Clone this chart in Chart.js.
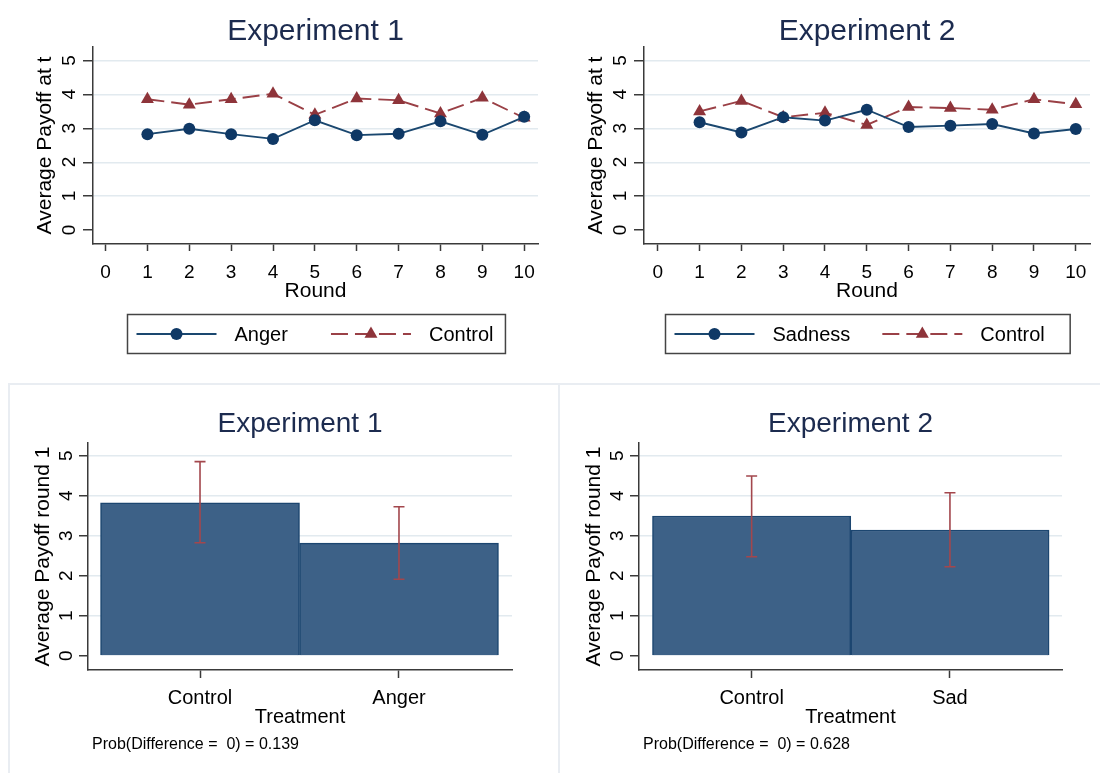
<!DOCTYPE html>
<html>
<head>
<meta charset="utf-8">
<script src="https://cdn.jsdelivr.net/npm/chart.js@4.4.1/dist/chart.umd.min.js"></script>
<style>
    body { margin: 0; background: #fff; width: 1100px; height: 773px; position: relative; overflow: hidden; }
    .panel { position: absolute; }
    .rule { position: absolute; background: #e9edf2; }
</style>
</head>
<body>
<div class="rule" style="left:8px; top:383px; width:1092px; height:2px"></div>
<div class="rule" style="left:8px; top:383px; width:2px; height:390px"></div>
<div class="rule" style="left:558px; top:383px; width:2px; height:390px"></div>

<div class="panel" style="left:0; top:0; width:550px; height:370px"><canvas id="lineExp1"></canvas></div>
<div class="panel" style="left:550px; top:0; width:550px; height:370px"><canvas id="lineExp2"></canvas></div>
<div class="panel" style="left:0; top:370px; width:550px; height:403px"><canvas id="barExp1"></canvas></div>
<div class="panel" style="left:550px; top:370px; width:550px; height:403px"><canvas id="barExp2"></canvas></div>

<script>
// ─── data ───
const rounds = [1, 2, 3, 4, 5, 6, 7, 8, 9, 10];
const roundTicks = [0, 1, 2, 3, 4, 5, 6, 7, 8, 9, 10];
const payoffTicks = [0, 1, 2, 3, 4, 5];

const exp1Anger   = [2.83, 2.99, 2.83, 2.69, 3.24, 2.80, 2.84, 3.21, 2.81, 3.34];
const exp1Control = [3.86, 3.70, 3.86, 4.02, 3.40, 3.88, 3.83, 3.44, 3.90, 3.31];
const exp2Sadness = [3.18, 2.88, 3.33, 3.23, 3.55, 3.04, 3.08, 3.13, 2.85, 2.98];
const exp2Control = [3.50, 3.81, 3.33, 3.46, 3.10, 3.63, 3.60, 3.55, 3.86, 3.71];

const treatmentPos = [1, 2];
const exp1Treatments = ['Control', 'Anger'];
const exp1Round1     = [3.83, 2.82];
const exp1Round1Low  = [2.83, 1.92];
const exp1Round1High = [4.86, 3.73];

const exp2Treatments = ['Control', 'Sad'];
const exp2Round1     = [3.50, 3.15];
const exp2Round1Low  = [2.48, 2.23];
const exp2Round1High = [4.50, 4.08];

const exp1Note = 'Prob(Difference =  0) = 0.139';
const exp2Note = 'Prob(Difference =  0) = 0.628';

// ─── style ───
const FONT = "'Liberation Sans', Arial, sans-serif";
const NAVY = '#1a476f', NAVY_DOT = '#0f3865';
const MAROON = '#9a4046', MAROON_MARK = '#8e343a';
const AXIS = '#3a3a3a', GRID = '#e2eaef', TITLE = '#1c2b4f';
const BAR = '#3d6187', BAR_EDGE = '#1c4670', ERR = '#a3474d';

Chart.defaults.font.family = FONT;
Chart.defaults.color = '#000';
Chart.defaults.animation = false;

// ─── scales ───
function payoffScale(o) {
    return {
        type: 'linear', min: o.min, max: o.max,
        afterBuildTicks: s => { s.ticks = payoffTicks.map(v => ({ value: v })); },
        afterFit: s => { s.width = o.axisX; },
        border: { color: AXIS, width: 1.5 },
        grid: {
            color: c => (c.tick && c.tick.value === 0) ? 'rgba(0,0,0,0)' : GRID,
            lineWidth: 1.5, tickColor: AXIS, tickLength: o.tickLen, tickWidth: 1.5
        },
        ticks: {
            font: { size: 19 }, color: '#000', minRotation: 90, maxRotation: 90,
            padding: o.axisX - o.tickLen - o.labelX, labelOffset: -5.5
        },
        title: {
            display: true, text: o.title, font: { size: 21 }, color: '#000',
            padding: { top: o.titleX - 12.6, bottom: 0 }
        }
    };
}

function roundScale(min, max) {
    return {
        type: 'linear', min, max,
        afterBuildTicks: s => { s.ticks = roundTicks.map(v => ({ value: v })); },
        afterFit: s => { s.height = 60; },
        border: { color: AXIS, width: 1.5 },
        grid: { drawOnChartArea: false, tickColor: AXIS, tickLength: 7, tickWidth: 1.5 },
        ticks: { font: { size: 19 }, color: '#000', padding: 10, maxRotation: 0, autoSkip: false },
        title: { display: true, text: 'Round', font: { size: 21 }, color: '#000', padding: { top: 0, bottom: 0 } }
    };
}

function treatmentScale(min, max, names) {
    return {
        type: 'linear', min, max, offset: false,
        afterBuildTicks: s => { s.ticks = treatmentPos.map(v => ({ value: v })); },
        afterFit: s => { s.height = 60; },
        border: { color: AXIS, width: 1.5 },
        grid: { offset: false, drawOnChartArea: false, tickColor: AXIS, tickLength: 8, tickWidth: 1.5 },
        ticks: {
            font: { size: 20 }, color: '#000', padding: 8.5, maxRotation: 0, autoSkip: false,
            callback: v => names[treatmentPos.indexOf(v)]
        },
        title: { display: true, text: 'Treatment', font: { size: 20 }, color: '#000', padding: { top: 0, bottom: 1 } }
    };
}

// ─── plugins ───
const legendBox = {
    id: 'legendBox',
    afterDraw(chart) {
        const { ctx, chartArea, data } = chart;
        const items = data.datasets;
        ctx.save();
        ctx.font = `20px ${FONT}`;
        const textW = Math.max(...items.map(d => ctx.measureText(d.label).width));
        const sample = 80, gap = 18, colGap = 32, padL = 9, padR = 12, h = 39;
        const colW = sample + gap + textW;
        const boxW = padL + colW * items.length + colGap * (items.length - 1) + padR;
        const x0 = Math.round((chartArea.left + chartArea.right) / 2 - boxW / 2) + 0.5;
        const y0 = chartArea.bottom + 70.5;
        ctx.strokeStyle = '#444'; ctx.lineWidth = 1.5;
        ctx.strokeRect(x0, y0, boxW, h);
        const cy = y0 + h / 2;
        items.forEach((d, i) => {
            const sx = x0 + padL + i * (colW + colGap);
            ctx.strokeStyle = d.borderColor; ctx.lineWidth = d.borderWidth;
            ctx.setLineDash(d.borderDash || []);
            ctx.beginPath(); ctx.moveTo(sx, cy); ctx.lineTo(sx + sample, cy); ctx.stroke();
            ctx.setLineDash([]);
            ctx.fillStyle = d.pointBackgroundColor;
            Chart.helpers.drawPoint(ctx, { pointStyle: d.pointStyle, radius: d.pointRadius, borderWidth: 0, rotation: 0 }, sx + sample / 2, cy);
            ctx.fillStyle = '#000'; ctx.textBaseline = 'middle'; ctx.textAlign = 'left';
            ctx.fillText(d.label, sx + sample + gap, cy + 1);
        });
        ctx.restore();
    }
};

const errorBars = {
    id: 'errorBars',
    afterDatasetsDraw(chart, args, opts) {
        const { ctx, scales: { x, y } } = chart;
        ctx.save();
        ctx.strokeStyle = ERR; ctx.lineWidth = 1.6;
        opts.pos.forEach((p, i) => {
            const px = x.getPixelForValue(p);
            const lo = y.getPixelForValue(opts.low[i]), hi = y.getPixelForValue(opts.high[i]);
            ctx.beginPath();
            ctx.moveTo(px, lo); ctx.lineTo(px, hi);
            ctx.moveTo(px - 5.5, lo); ctx.lineTo(px + 5.5, lo);
            ctx.moveTo(px - 5.5, hi); ctx.lineTo(px + 5.5, hi);
            ctx.stroke();
        });
        ctx.restore();
    }
};

const noteText = {
    id: 'noteText',
    afterDraw(chart, args, opts) {
        const { ctx, chartArea } = chart;
        ctx.save();
        ctx.font = `16px ${FONT}`; ctx.fillStyle = '#000';
        ctx.textBaseline = 'middle'; ctx.textAlign = 'left';
        ctx.fillText(opts.text, chartArea.left + 4, chartArea.bottom + 75);
        ctx.restore();
    }
};

// ─── charts ───
function lineChart(id, title, name, series, control, xr, ax) {
    new Chart(document.getElementById(id), {
        type: 'line',
        data: {
            datasets: [{
                label: name,
                data: rounds.map((r, i) => ({ x: r, y: series[i] })),
                borderColor: NAVY, borderWidth: 1.9,
                pointStyle: 'circle', pointRadius: 6, pointBorderWidth: 0,
                pointBackgroundColor: NAVY_DOT, tension: 0
            }, {
                label: 'Control',
                data: rounds.map((r, i) => ({ x: r, y: control[i] })),
                borderColor: MAROON, borderWidth: 1.9, borderDash: [17, 7],
                pointStyle: 'triangle', pointRadius: 7.5, pointBorderWidth: 0,
                pointBackgroundColor: MAROON_MARK, tension: 0
            }]
        },
        options: {
            responsive: true, maintainAspectRatio: false,
            layout: { padding: { top: 0, left: 0, right: ax.right, bottom: 66 } },
            scales: {
                x: roundScale(xr[0], xr[1]),
                y: payoffScale({ min: -0.41, max: 5.4, axisX: ax.axisX, tickLen: 10, labelX: ax.axisX - 23, titleX: ax.axisX - 48, title: 'Average Payoff at t' })
            },
            plugins: {
                legend: { display: false },
                tooltip: { enabled: false },
                title: {
                    display: true, text: title, fullSize: false, color: TITLE,
                    font: { size: 30, weight: 'normal', lineHeight: 1 }, padding: { top: 17, bottom: 0 }
                }
            }
        },
        plugins: [legendBox]
    });
}

function barChart(id, title, names, values, low, high, note, xr, ax) {
    new Chart(document.getElementById(id), {
        type: 'bar',
        data: {
            datasets: [{
                data: treatmentPos.map((p, i) => ({ x: p, y: values[i] })),
                backgroundColor: BAR, borderColor: BAR_EDGE, borderWidth: 1.5,
                barPercentage: 1, categoryPercentage: 1
            }]
        },
        options: {
            responsive: true, maintainAspectRatio: false,
            layout: { padding: { top: 0, left: 0, right: ax.right, bottom: 43 } },
            scales: {
                x: treatmentScale(xr[0], xr[1], names),
                y: payoffScale({ min: -0.35, max: 5.325, axisX: ax.axisX, tickLen: 9, labelX: ax.axisX - 21, titleX: ax.axisX - 44.5, title: 'Average Payoff round 1' })
            },
            plugins: {
                legend: { display: false },
                tooltip: { enabled: false },
                title: {
                    display: true, text: title, fullSize: false, color: TITLE,
                    font: { size: 28, weight: 'normal', lineHeight: 1 }, padding: { top: 40, bottom: 5 }
                },
                errorBars: { pos: treatmentPos, low, high },
                noteText: { text: note }
            }
        },
        plugins: [errorBars, noteText]
    });
}

lineChart('lineExp1', 'Experiment 1', 'Anger', exp1Anger, exp1Control, [-0.3, 10.33], { axisX: 93, right: 12 });
lineChart('lineExp2', 'Experiment 2', 'Sadness', exp2Sadness, exp2Control, [-0.33, 10.34], { axisX: 94, right: 10 });
barChart('barExp1', 'Experiment 1', exp1Treatments, exp1Round1, exp1Round1Low, exp1Round1High, exp1Note, [0.437, 2.568], { axisX: 88, right: 38 });
barChart('barExp2', 'Experiment 2', exp2Treatments, exp2Round1, exp2Round1Low, exp2Round1High, exp2Note, [0.432, 2.565], { axisX: 89, right: 38 });
</script>
</body>
</html>
